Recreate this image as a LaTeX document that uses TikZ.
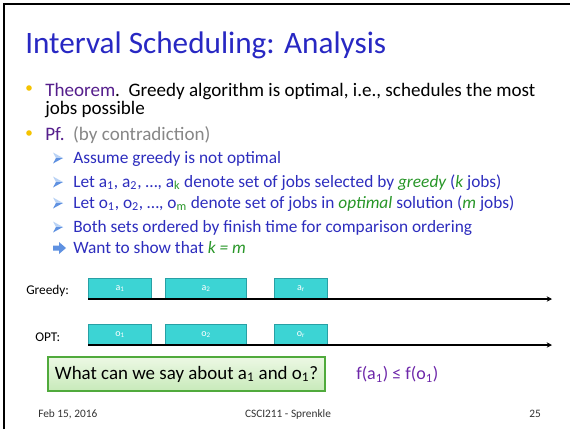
\documentclass[tikz,border=0pt]{standalone}
\usepackage{fontspec}
\setmainfont{Carlito}
\usetikzlibrary{shadows,calc,arrows.meta}
\definecolor{titleblue}{RGB}{40,40,195}
\definecolor{subblue}{RGB}{45,45,190}
\definecolor{thmpurple}{RGB}{85,30,140}
\definecolor{pfgray}{RGB}{135,135,135}
\definecolor{emgreen}{RGB}{40,150,40}
\definecolor{dotyellow}{RGB}{245,195,0}
\definecolor{markblue}{RGB}{95,145,225}
\definecolor{markpale}{RGB}{185,210,245}
\definecolor{jobfill}{RGB}{60,212,212}
\definecolor{jobedge}{RGB}{40,160,165}
\definecolor{qfilltop}{RGB}{236,248,228}
\definecolor{qfillbot}{RGB}{200,234,186}
\definecolor{qedge}{RGB}{80,170,60}
\definecolor{fpurple}{RGB}{110,40,170}
\tikzset{
  titletext/.style={anchor=base west, inner sep=0pt, text=titleblue, font=\fontsize{23.4}{27}\selectfont},
  maintext/.style={anchor=base west, inner sep=0pt, text=black, font=\fontsize{14.3}{16}\selectfont},
  subtext/.style={anchor=base west, inner sep=0pt, text=subblue, font=\fontsize{13}{15}\selectfont},
  bulletdot/.style={circle, fill=dotyellow, inner sep=0pt, minimum size=4.2pt},
  tracklabel/.style={anchor=west, inner sep=0pt, font=\fontsize{10}{11}\selectfont},
  jobbox/.style={anchor=south west, draw=jobedge, fill=jobfill, line width=0.8pt, inner sep=0pt,
    minimum height=15pt, text=white, font=\fontsize{7.5}{8}\selectfont},
  axis/.style={line width=1.1pt, -{Stealth[length=4pt,width=4pt]}},
  qbox/.style={draw=qedge, line width=0.8pt, top color=qfilltop, bottom color=qfillbot,
    inner sep=0pt, drop shadow={opacity=0.25, shadow xshift=1pt, shadow yshift=-1pt},
    font=\fontsize{14.2}{16}\selectfont},
  foottext/.style={anchor=base, inner sep=0pt, text=black!80, font=\fontsize{8.5}{10}\selectfont}
}
% three-dimensional arrowhead marker for the sub-items
\newcommand{\headmark}[1]{%
  \fill[markpale] ($(#1)+(0,-5.5)$) -- ($(#1)+(10,0)$) -- ($(#1)+(3,0)$) -- cycle;
  \fill[markblue] ($(#1)+(0,5.5)$) -- ($(#1)+(10,0)$) -- ($(#1)+(3,0)$) -- cycle;}
\begin{document}
\begin{tikzpicture}[x=0.75pt,y=-0.75pt]
\useasboundingbox (0,0) rectangle (570,429);
\fill[white] (0,0) rectangle (570,429);
% slide frame
\draw[line width=1.6pt] (4,429) -- (4,4) -- (570,4);

% heading
\node[titletext] (title) at (25,53) {Interval Scheduling: Analysis};

% top-level items
\node[bulletdot] (dot1) at (29,88) {};
\node[maintext] (thm) at (45,96) {\textcolor{thmpurple}{Theorem}.\ \ Greedy algorithm is optimal, i.e., schedules the most};
\node[maintext] (thmb) at (45,114) {jobs possible};
\node[bulletdot] (dot2) at (29,133) {};
\node[maintext] (pf) at (45,140) {\textcolor{thmpurple}{Pf.}\ \ \textcolor{pfgray}{(by contradiction)}};

% second-level items
\coordinate (m1) at (53,158);
\coordinate (m2) at (53,182);
\coordinate (m3) at (53,203);
\coordinate (m4) at (53,227);
\headmark{m1}
\headmark{m2}
\headmark{m3}
\headmark{m4}
\node[subtext] (s1) at (73,163) {Assume greedy is not optimal};
\node[subtext] (s2) at (73,187) {Let a\textsubscript{1}, a\textsubscript{2}, \dots, a\textsubscript{\textcolor{emgreen}{k}} denote set of jobs selected by \textcolor{emgreen}{\itshape greedy} (\textcolor{emgreen}{\itshape k} jobs)};
\node[subtext] (s3) at (73,208) {Let o\textsubscript{1}, o\textsubscript{2}, \dots, o\textsubscript{\textcolor{emgreen}{m}} denote set of jobs in \textcolor{emgreen}{\itshape optimal} solution (\textcolor{emgreen}{\itshape m} jobs)};
\node[subtext] (s4) at (73,232) {Both sets ordered by finish time for comparison ordering};
% block arrow marker
\fill[markblue] (53,245.5) -- (59,245.5) -- (59,242) -- (66,248) -- (59,254) -- (59,250.5) -- (53,250.5) -- cycle;
\node[subtext] (s5) at (73,253) {Want to show that \textcolor{emgreen}{\itshape k = m}};

% greedy schedule
\node[tracklabel] (glabel) at (26,291) {Greedy:};
\node[jobbox, minimum width=47.25pt] (a1) at (88,299) {a\textsubscript{1}};
\node[jobbox, minimum width=60.75pt] (a2) at (165,299) {a\textsubscript{2}};
\node[jobbox, minimum width=39.75pt] (ar) at (274,299) {a\textsubscript{r}};
\coordinate (gend) at (552,299);
\draw[axis] (a1.south west) -- (gend);

% optimal schedule
\node[tracklabel] (olabel) at (35,337) {OPT:};
\node[jobbox, minimum width=47.25pt] (o1) at (88,345) {o\textsubscript{1}};
\node[jobbox, minimum width=60.75pt] (o2) at (165,345) {o\textsubscript{2}};
\node[jobbox, minimum width=39.75pt] (or) at (274,345) {o\textsubscript{r}};
\coordinate (oend) at (552,345);
\draw[axis] (o1.south west) -- (oend);

% question and answer
\node[qbox, minimum width=207.75pt, minimum height=25.5pt] (q) at (186.5,374)
  {What can we say about a\textsubscript{1} and o\textsubscript{1}?};
\node[anchor=west, inner sep=0pt, text=fpurple, font=\fontsize{13.5}{16}\selectfont] (ans) at (356,374)
  {f(a\textsubscript{1}) ≤ f(o\textsubscript{1})};

% footer
\node[foottext, anchor=base west] (date) at (38,417) {Feb 15, 2016};
\node[foottext] (course) at (288,417) {CSCI211 - Sprenkle};
\node[foottext, anchor=base east] (page) at (541,417) {25};
\end{tikzpicture}
\end{document}
